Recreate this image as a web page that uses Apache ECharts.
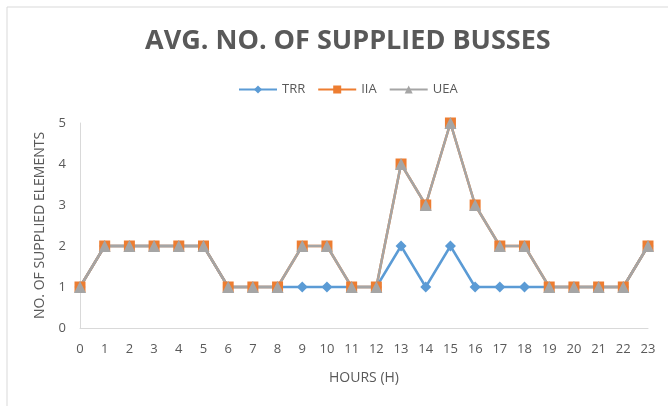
<!DOCTYPE html>
<html>
<head>
<meta charset="utf-8">
<script src="https://cdn.jsdelivr.net/npm/echarts@6/dist/echarts.min.js"></script>
<style>
  body { margin: 0; background: #fff; }
  #main { width: 668px; height: 406px; }
</style>
</head>
<body>
<div id="main"></div>
<script>
  const hours = ['0','1','2','3','4','5','6','7','8','9','10','11','12','13','14','15','16','17','18','19','20','21','22','23']
  const trr = [1,2,2,2,2,2,1,1,1,1,1,1,1,2,1,2,1,1,1,1,1,1,1,2]
  const iia = [1,2,2,2,2,2,1,1,1,2,2,1,1,4,3,5,3,2,2,1,1,1,1,2]
  const uea = [1,2,2,2,2,2,1,1,1,2,2,1,1,4,3,5,3,2,2,1,1,1,1,2]
  const yTicks = [0,1,2,3,4,5]

  const font = 'Open Sans'
  const txt = '#595959'

  function lineSeries(name, data, color, symbol, size) {
    return {
      name: name,
      type: 'line',
      data: data,
      symbol: symbol,
      symbolSize: size,
      lineStyle: { color: color, width: 2.5 },
      itemStyle: { color: color },
      emphasis: { disabled: true }
    }
  }

  const chart = echarts.init(document.getElementById('main'))
  chart.setOption({
    animation: false,
    textStyle: { fontFamily: font },
    graphic: [{
      type: 'rect',
      shape: { x: 7, y: 7, width: 700, height: 420 },
      style: { fill: 'none', stroke: '#d9d9d9', lineWidth: 1 },
      silent: true
    }],
    title: {
      text: 'AVG. NO. OF SUPPLIED BUSSES',
      left: 140,
      top: 23,
      textStyle: { fontFamily: font, fontSize: 27, fontWeight: 'bold', color: txt }
    },
    legend: {
      top: 78,
      left: 233,
      itemWidth: 38,
      itemHeight: 10,
      itemGap: 12,
      textStyle: { fontFamily: font, fontSize: 13, color: txt },
      data: ['TRR', 'IIA', 'UEA']
    },
    grid: { left: 80, right: 20, top: 123, bottom: 78 },
    xAxis: {
      type: 'category',
      data: hours,
      boundaryGap: false,
      name: 'HOURS (H)',
      nameLocation: 'middle',
      nameGap: 43,
      nameTextStyle: { fontFamily: font, fontSize: 14, color: txt },
      axisLine: { lineStyle: { color: '#d9d9d9', width: 1 } },
      axisTick: { show: false },
      axisLabel: { interval: 0, color: txt, fontSize: 13, margin: 15 }
    },
    yAxis: {
      type: 'value',
      min: yTicks[0],
      max: yTicks[yTicks.length - 1],
      interval: 1,
      name: 'NO. OF SUPPLIED ELEMENTS',
      nameLocation: 'middle',
      nameGap: 33,
      nameTextStyle: { fontFamily: font, fontSize: 14, color: txt },
      axisLine: { show: true, lineStyle: { color: '#d9d9d9', width: 1 } },
      axisTick: { show: false },
      splitLine: { show: false },
      axisLabel: { color: txt, fontSize: 13, margin: 14 }
    },
    series: [
      lineSeries('TRR', trr, '#5b9bd5', 'diamond', 11),
      lineSeries('IIA', iia, '#ed7d31', 'rect', 11),
      lineSeries('UEA', uea, '#a5a5a5', 'triangle', 12)
    ]
  })
</script>
</body>
</html>
